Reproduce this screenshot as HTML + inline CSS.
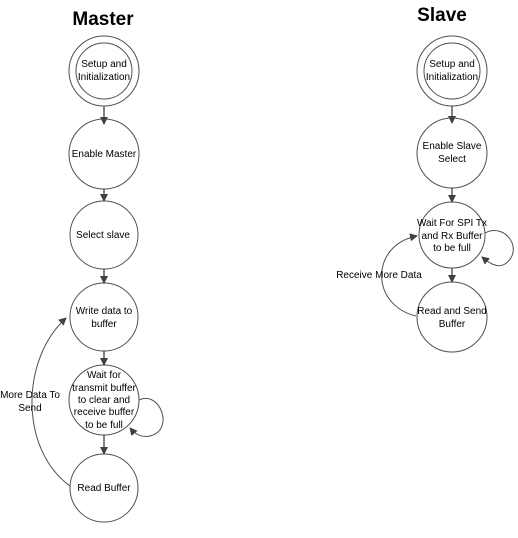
<!DOCTYPE html>
<html><head><style>
html,body{margin:0;padding:0;background:#fff;}
svg text{font-family:"Liberation Sans",sans-serif;font-size:10px;fill:#000;text-anchor:middle;}
</style></head><body>
<svg width="518" height="533" viewBox="0 0 518 533" xmlns="http://www.w3.org/2000/svg">
<defs><marker id="a" markerWidth="8" markerHeight="8" refX="7" refY="4" orient="auto" markerUnits="userSpaceOnUse"><path d="M0,0 L8,4 L0,8 z" fill="#404040"/></marker></defs>
<g fill="none" stroke="#505050" stroke-width="1">
<!-- master -->
<circle cx="104" cy="71" r="35"/><circle cx="104" cy="71" r="28"/>
<circle cx="104" cy="154" r="35"/>
<circle cx="104" cy="235" r="34"/>
<circle cx="104" cy="317" r="34"/>
<circle cx="104" cy="400" r="35"/>
<circle cx="104" cy="488" r="34"/>
<line x1="104" y1="106" x2="104" y2="124" stroke="#404040" stroke-width="1.3" marker-end="url(#a)"/>
<line x1="104" y1="189" x2="104" y2="201" stroke="#404040" stroke-width="1.3" marker-end="url(#a)"/>
<line x1="104" y1="269" x2="104" y2="283" stroke="#404040" stroke-width="1.3" marker-end="url(#a)"/>
<line x1="104" y1="351" x2="104" y2="365" stroke="#404040" stroke-width="1.3" marker-end="url(#a)"/>
<line x1="104" y1="435" x2="104" y2="454" stroke="#404040" stroke-width="1.3" marker-end="url(#a)"/>
<path d="M139,400 C160,390 175,430 150,436 C142,438 135,434 130,428" marker-end="url(#a)"/>
<path d="M70,486 C20,450 20,360 66,318" marker-end="url(#a)"/>
<!-- slave -->
<circle cx="452" cy="71" r="35"/><circle cx="452" cy="71" r="28"/>
<circle cx="452" cy="153" r="35"/>
<circle cx="452" cy="235" r="33"/>
<circle cx="452" cy="317" r="35"/>
<line x1="452" y1="106" x2="452" y2="123" stroke="#404040" stroke-width="1.3" marker-end="url(#a)"/>
<line x1="452" y1="188" x2="452" y2="202" stroke="#404040" stroke-width="1.3" marker-end="url(#a)"/>
<line x1="452" y1="268" x2="452" y2="282" stroke="#404040" stroke-width="1.3" marker-end="url(#a)"/>
<path d="M485,233 C505,222 525,250 505,264 C497,269 488,262 482,257" marker-end="url(#a)"/>
<path d="M416,316 C370,305 370,245 417,236" marker-end="url(#a)"/>
</g>
<text x="103" y="25" style="font-size:19px;font-weight:bold">Master</text>
<text x="442" y="21" style="font-size:19px;font-weight:bold">Slave</text>
<text x="104" y="67">Setup and</text><text x="104" y="80">Initialization</text>
<text x="104" y="157">Enable Master</text>
<text x="103" y="238">Select slave</text>
<text x="104" y="314">Write data to</text><text x="104" y="327">buffer</text>
<text x="104" y="378">Wait for</text><text x="104" y="391">transmit buffer</text><text x="104" y="403">to clear and</text><text x="104" y="415">receive buffer</text><text x="104" y="428">to be full</text>
<text x="104" y="491">Read Buffer</text>
<text x="30" y="398">More Data To</text><text x="30" y="411">Send</text>
<text x="452" y="67">Setup and</text><text x="452" y="80">Initialization</text>
<text x="452" y="149">Enable Slave</text><text x="452" y="162">Select</text>
<text x="452" y="226">Wait For SPI Tx</text><text x="452" y="239">and Rx  Buffer</text><text x="452" y="251">to be full</text>
<text x="379" y="278">Receive More Data</text>
<text x="452" y="314">Read and Send</text><text x="452" y="327">Buffer</text>
</svg>
</body></html>
